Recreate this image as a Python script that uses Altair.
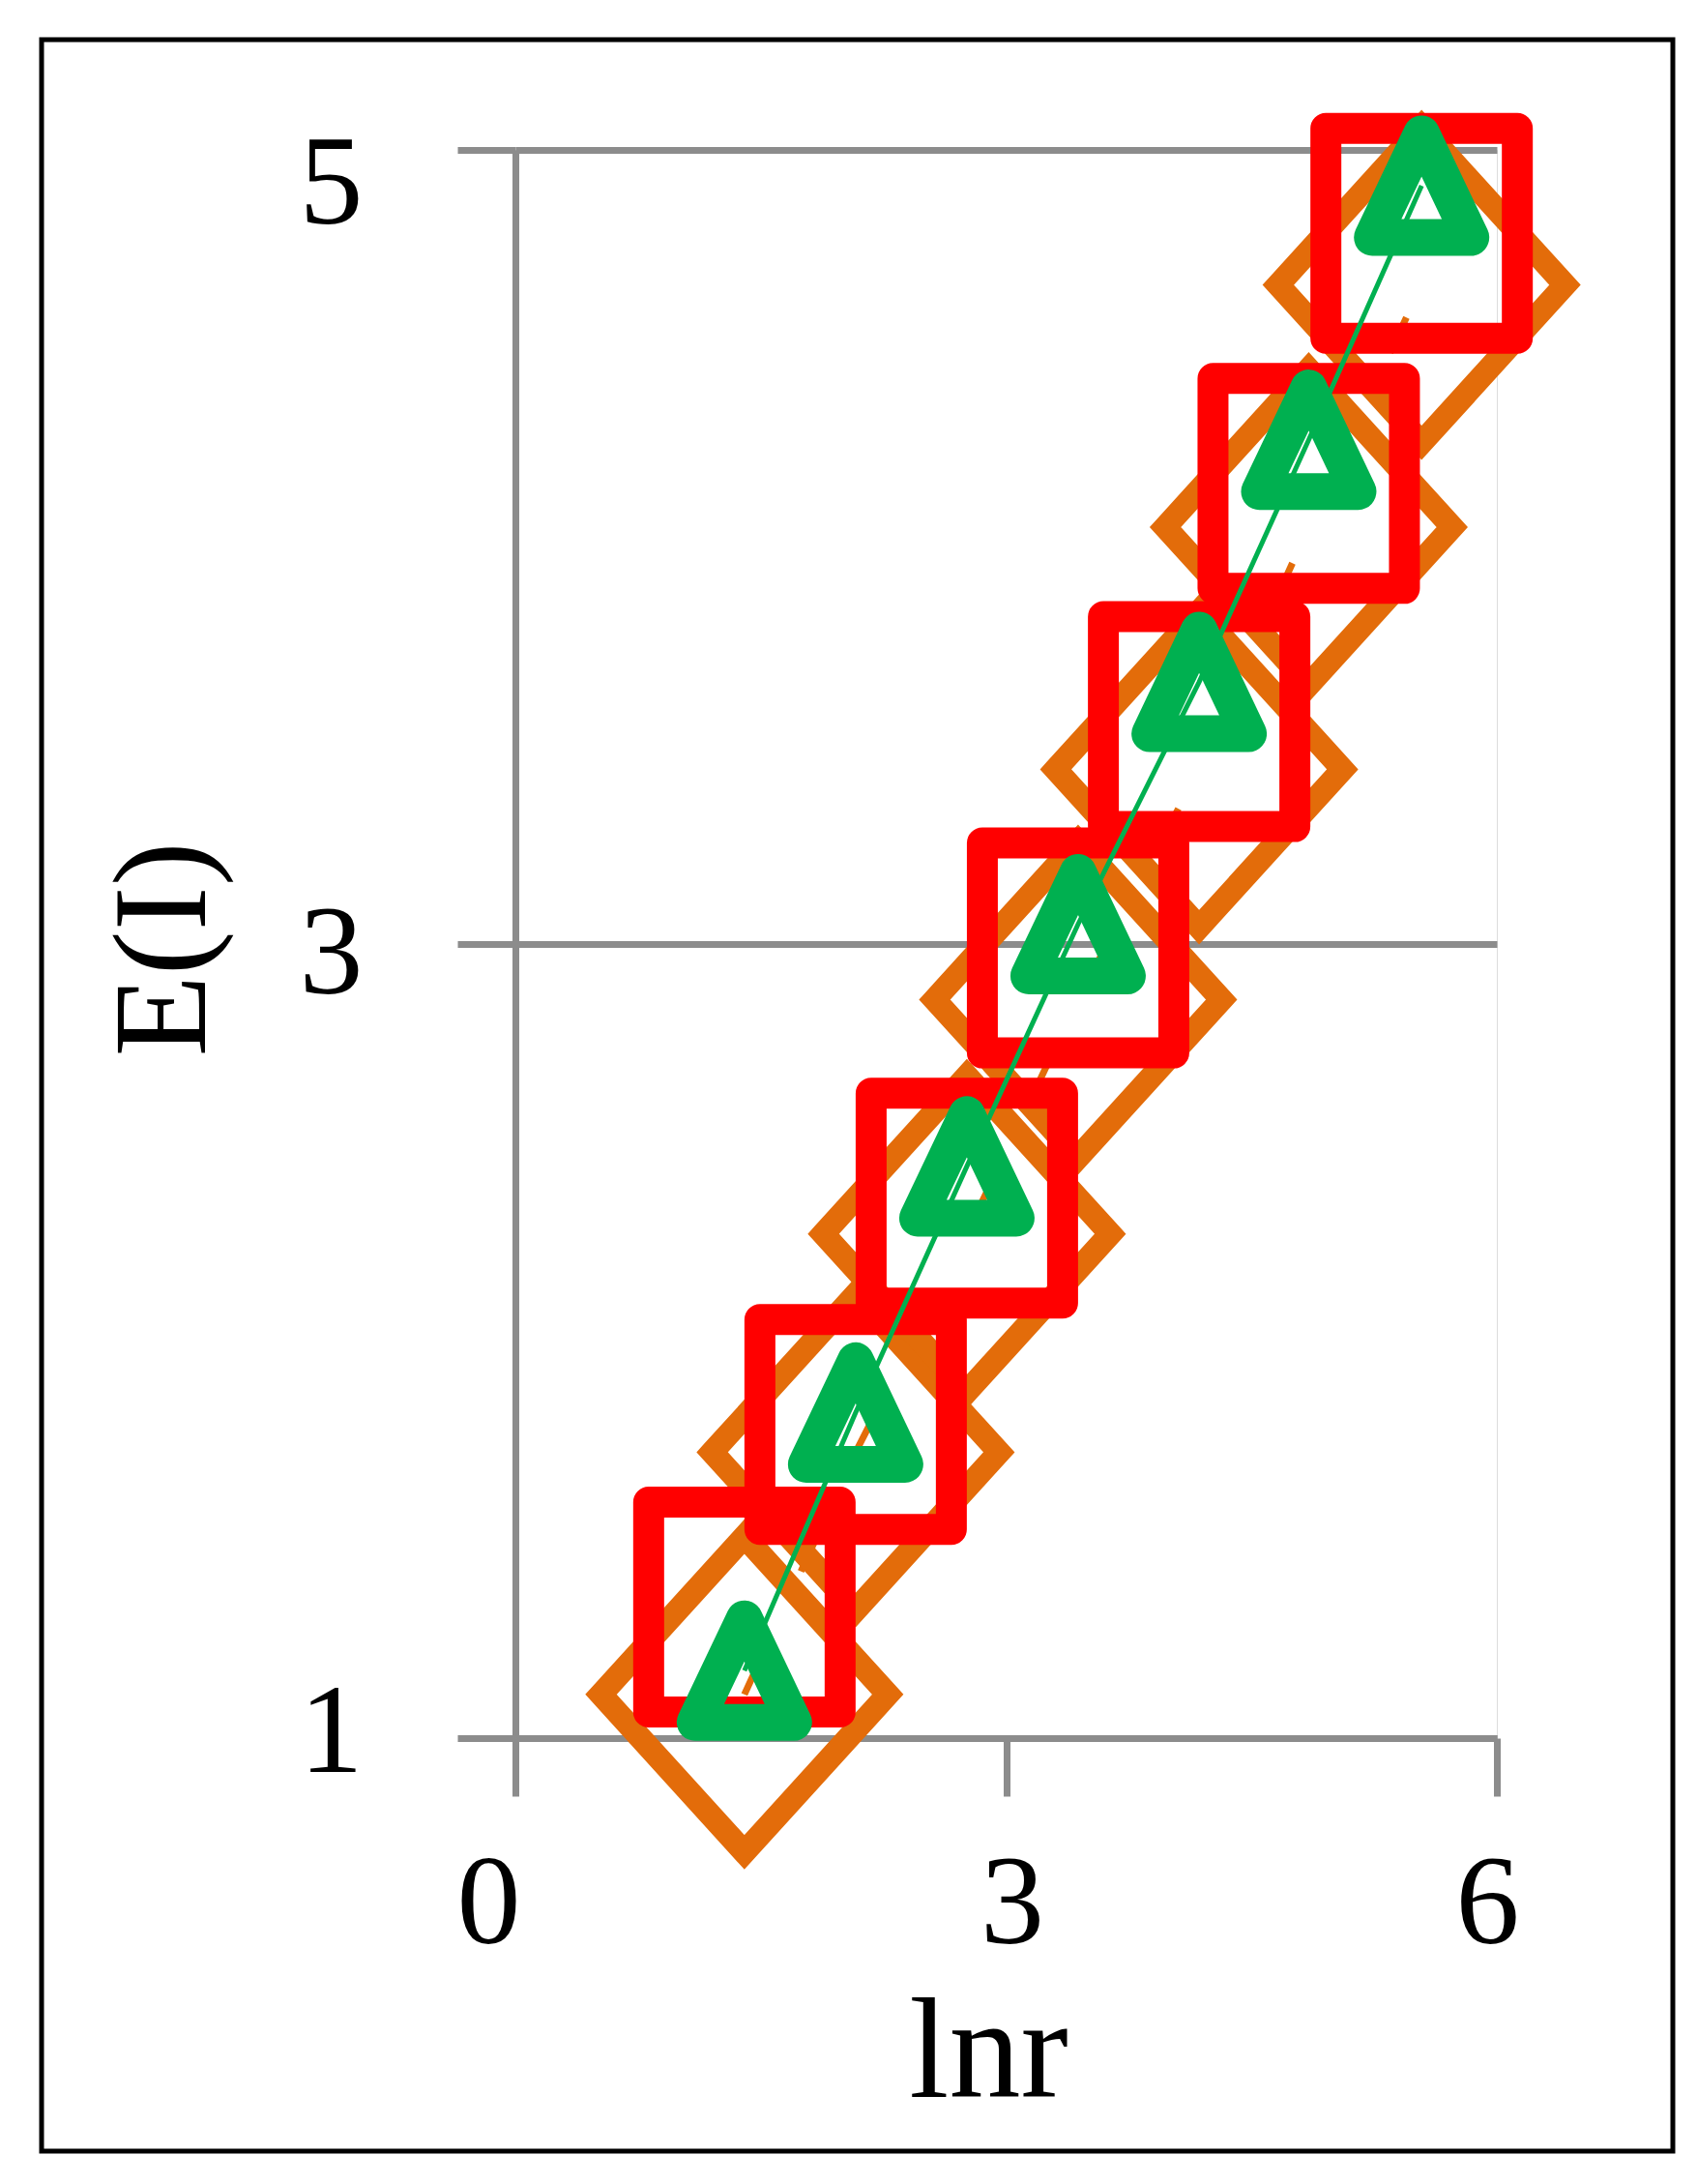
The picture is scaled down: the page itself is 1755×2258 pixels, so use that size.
import altair as alt
import pandas as pd

# ---- data ----
lnr = [1.40, 2.08, 2.76, 3.44, 4.18, 4.85, 5.54]
e_diamond = [1.11, 1.72, 2.27, 2.86, 3.44, 4.05, 4.66]
e_square = [1.33, 1.79, 2.36, 2.99, 3.56, 4.16, 4.79]
e_triangle = [1.17, 1.82, 2.44, 3.05, 3.66, 4.27, 4.91]
x_ticks = [0, 3, 6]
y_ticks = [1, 3, 5]

GRAY = "#8c8c8c"
ORANGE = "#e36c0a"
RED = "#ff0000"
GREEN = "#00b050"
FONT = "Liberation Serif"

rows = []
for name, vals in (("d", e_diamond), ("s", e_square), ("t", e_triangle)):
    for xv, yv in zip(lnr, vals):
        rows.append({"lnr": xv, "E": yv, "series": name})
df = pd.DataFrame(rows)

x_axis = alt.Axis(
    values=x_ticks, grid=False, tickSize=60, tickWidth=7, tickColor=GRAY,
    domainColor=GRAY, domainWidth=7,
    labelFont=FONT, labelFontSize=132, labelColor="black",
    labelBaseline="alphabetic", labelPadding=151, labelFlush=False,
    labelOverlap=False, labelBound=False,
    labelOffset={"condition": [{"test": "datum.value == 0", "value": -28},
                               {"test": "datum.value == 3", "value": 6}],
                 "value": -10},
    title="lnr", titleFont=FONT, titleFontSize=148, titleFontWeight="normal",
    titleColor="black", titleBaseline="alphabetic", titleAlign="center",
    titleX=489, titleY=370,
)
y_axis = alt.Axis(
    values=y_ticks, grid=True, gridColor=GRAY, gridWidth=7, gridOpacity=1,
    tickSize=60, tickWidth=7, tickColor=GRAY,
    domainColor=GRAY, domainWidth=7,
    labelFont=FONT, labelFontSize=132, labelColor="black",
    labelBaseline="middle", labelAlign="right", labelPadding=98,
    labelOverlap=False, labelBound=False,
    labelOffset={"condition": [{"test": "datum.value == 5", "value": 35},
                               {"test": "datum.value == 3", "value": 10}],
                 "value": -6},
    title="E(I)", titleFont=FONT, titleFontSize=138, titleFontWeight="normal",
    titleColor="black", titleBaseline="alphabetic", titleAlign="center",
    titleAngle=270, titleX=-322, titleY=826,
)

X = alt.X("lnr:Q", scale=alt.Scale(domain=[0, 6], nice=False, zero=False), axis=x_axis)
Y = alt.Y("E:Q", scale=alt.Scale(domain=[1, 5], nice=False, zero=False), axis=y_axis)

base = alt.Chart(df).encode(x=X, y=Y, order="lnr:Q")

DIAMOND = "M-1,0L0,-1.1L1,0L0,1.1Z"
SQUARE = "M-1,-1.096H1V1.096H-1Z"
TRIANGLE = "M0,-1.05L1,1.05L-1,1.05Z"

orange_line = base.transform_filter("datum.series == 'd'").mark_line(
    color=ORANGE, strokeWidth=7, strokeDash=[40, 100])
orange_pts = base.transform_filter("datum.series == 'd'").mark_point(
    shape=DIAMOND, size=88000, filled=False, stroke=ORANGE, strokeWidth=24,
    strokeJoin="miter", opacity=1)
red_pts = base.transform_filter("datum.series == 's'").mark_point(
    shape=SQUARE, size=39204, filled=False, stroke=RED, strokeWidth=32,
    strokeJoin="round", opacity=1)
green_line = base.transform_filter("datum.series == 't'").mark_line(
    color=GREEN, strokeWidth=5)
green_pts = base.transform_filter("datum.series == 't'").mark_point(
    shape=TRIANGLE, size=10404, filled=False, stroke=GREEN, strokeWidth=38,
    strokeJoin="round", opacity=1)

frame = alt.Chart(pd.DataFrame({"f": [0]})).mark_rect(
    filled=False, stroke="black", strokeWidth=5
).encode(
    x=alt.value(-490), x2=alt.value(1197),
    y=alt.value(-114), y2=alt.value(2069),
)

chart = alt.layer(
    orange_line, orange_pts, red_pts, green_line, green_pts, frame
).properties(
    width=1015, height=1642,
    padding={"left": 525, "top": 147, "right": 190, "bottom": 440},
    autosize=alt.AutoSizeParams(type="none"),
).configure_view(stroke=None).configure(background="white")

chart.save("out.html", embed_options={"renderer": "svg", "actions": False})
